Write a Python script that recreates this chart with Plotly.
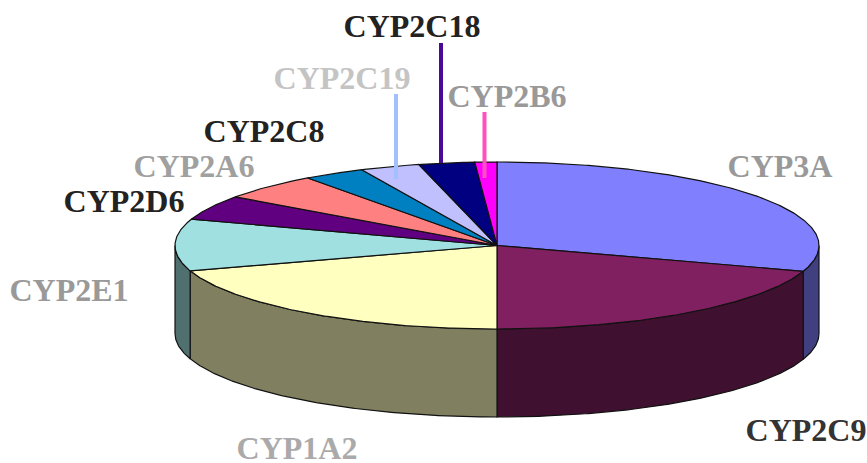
import numpy as np
import plotly.graph_objects as go

# shares in percent, clockwise from 12 o'clock
enzymes = ['CYP3A', 'CYP2C9', 'CYP1A2', 'CYP2E1', 'CYP2D6', 'CYP2A6', 'CYP2C8', 'CYP2C19', 'CYP2C18', 'CYP2B6']
shares = [30.0, 20.0, 20.1, 10.0, 4.8, 5.1, 3.1, 3.0, 2.8, 1.1]
top_colors = ['#8080FF', '#802060', '#FFFFC0', '#A0E0E0', '#600080', '#FF8080', '#0080C0', '#C0C0FF', '#000080', '#FF00FF']
side_colors = ['#404080', '#401030', '#808060', '#507070', '#300040', '#804040', '#004060', '#606080', '#000040', '#800080']
label_colors = ['#999999', '#333333', '#AAAAAA', '#999999', '#222222', '#A0A0A0', '#222222', '#C4C4C4', '#222222', '#999999']
label_x = [780, 806, 297, 69, 124, 194, 264, 342, 412, 507]
label_y = [169, 433, 451, 293, 204, 169, 134, 81, 29, 99]

# leader lines: enzyme, top of line, bottom of line, x, colour
leaders = [('CYP2C19', 94, 179, 396, '#A0C0FF'),
           ('CYP2C18', 43, 163, 441, '#4B0A96'),
           ('CYP2B6', 112, 178, 484.5, '#FF50C0')]

cx, cy, rx, ry, depth = 497, 245.5, 322, 83.5, 88


def rim(a, b, drop=0):
    t = np.radians(np.linspace(a, b, max(2, int(abs(b - a) * 2) + 1)))
    return cx + rx * np.sin(t), cy - ry * np.cos(t) + drop


fig = go.Figure()
edges = np.concatenate([[0], np.cumsum(shares)]) * 360 / sum(shares)

# front wall first, only the part between 90 and 270 degrees shows
for i in range(len(shares)):
    a, b = max(edges[i], 90), min(edges[i + 1], 270)
    if a >= b:
        continue
    x1, y1 = rim(a, b)
    x2, y2 = rim(b, a, depth)
    fig.add_trace(go.Scatter(x=np.r_[x1, x2, x1[0]], y=np.r_[y1, y2, y1[0]], mode='lines', fill='toself',
                             fillcolor=side_colors[i], line=dict(color='#111111', width=1.2), hoverinfo='skip'))

# top face
for i in range(len(shares)):
    x1, y1 = rim(edges[i], edges[i + 1])
    fig.add_trace(go.Scatter(x=np.r_[cx, x1, cx], y=np.r_[cy, y1, cy], mode='lines', fill='toself',
                             fillcolor=top_colors[i], line=dict(color='#111111', width=1.2),
                             name=enzymes[i], text=f'{shares[i]}%', hoverinfo='name+text'))

for name, y0, y1, x, color in leaders:
    fig.add_trace(go.Scatter(x=[x, x], y=[y0, y1], mode='lines', line=dict(color=color, width=4), hoverinfo='skip'))

fig.add_trace(go.Scatter(x=label_x, y=label_y, text=enzymes, mode='text', textposition='middle center',
                         cliponaxis=False, hoverinfo='skip',
                         textfont=dict(family='Liberation Serif', size=32, weight=700, color=label_colors)))

fig.update_xaxes(range=[0, 867], visible=False)
fig.update_yaxes(range=[463, 0], visible=False)
fig.update_layout(width=867, height=463, margin=dict(l=0, r=0, t=0, b=0), showlegend=False,
                  paper_bgcolor='white', plot_bgcolor='white')
# page margin would push the figure 8px off
fig.write_html("out.html", config={'displayModeBar': False},
               post_script="document.body.style.margin='0';document.body.style.overflow='hidden';")
